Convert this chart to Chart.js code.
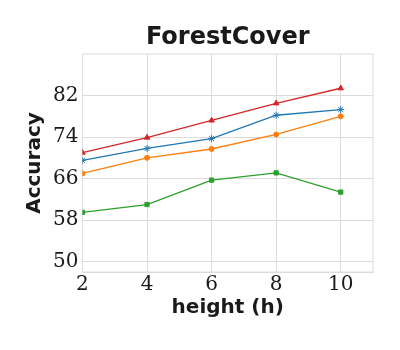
<!DOCTYPE html>
<html>
<head>
<meta charset="utf-8">
<script src="https://cdn.jsdelivr.net/npm/chart.js@4"></script>
<style>
  html, body { margin: 0; padding: 0; background: #fff; }
  #wrap { width: 400px; height: 350px; }
</style>
</head>
<body>
<div id="wrap"><canvas id="chart" width="400" height="350"></canvas></div>
<script>
'use strict';

// --- data ---
const heights = [2, 4, 6, 8, 10];
const redSeries = [71.0, 73.9, 77.2, 80.5, 83.4];
const blueSeries = [69.5, 71.8, 73.7, 78.2, 79.3];
const orangeSeries = [67.0, 70.0, 71.7, 74.5, 78.0];
const greenSeries = [59.5, 61.0, 65.7, 67.1, 63.4];
const yTicks = [50, 58, 66, 74, 82];
const xTicks = [2, 4, 6, 8, 10];
const chartTitle = 'ForestCover';

const gridColor = '#dcdcdc';
const textColor = '#1a1a1a';
const serif = "'DejaVu Serif', 'Liberation Serif', serif";
const sans = "'DejaVu Sans', sans-serif";

function series(values, color, style, radius) {
    return {
        data: heights.map((h, i) => ({ x: h, y: values[i] })),
        borderColor: color,
        backgroundColor: color,
        borderWidth: 1.3,
        pointStyle: style,
        pointRadius: radius,
        pointBorderWidth: 1,
        tension: 0
    };
}

// box around the plot area + title centred over it
const frame = {
    id: 'frame',
    beforeDatasetsDraw(chart) {
        const { ctx, chartArea: a } = chart;
        ctx.save();
        ctx.strokeStyle = gridColor;
        ctx.lineWidth = 1;
        ctx.strokeRect(a.left, a.top, a.right - a.left, a.bottom - a.top);
        ctx.restore();
    },
    afterDraw(chart) {
        const { ctx, chartArea: a } = chart;
        ctx.save();
        ctx.fillStyle = textColor;
        ctx.font = 'bold 24px ' + sans;
        ctx.textAlign = 'center';
        ctx.textBaseline = 'middle';
        ctx.fillText(chartTitle, (a.left + a.right) / 2, 38);
        ctx.restore();
    }
};

new Chart(document.getElementById('chart'), {
    type: 'line',
    data: {
        datasets: [
            series(greenSeries, '#2ca02c', 'rect', 3),
            series(orangeSeries, '#ff7f0e', 'circle', 2.5),
            series(blueSeries, '#1f77b4', 'star', 3.5),
            series(redSeries, '#d62728', 'triangle', 3.2)
        ]
    },
    options: {
        responsive: false,
        animation: false,
        layout: { padding: { left: 23, right: 27, top: 54, bottom: 30 } },
        plugins: {
            legend: { display: false },
            tooltip: { enabled: false },
            title: { display: false }
        },
        scales: {
            x: {
                type: 'linear',
                min: 2, max: 11,
                afterBuildTicks: (axis) => { axis.ticks = xTicks.map(v => ({ value: v })); },
                grid: { color: gridColor, drawTicks: false },
                border: { color: gridColor },
                ticks: { color: textColor, padding: 1, font: { family: serif, size: 20 } },
                title: {
                    display: true, text: 'height (h)', color: textColor,
                    font: { family: sans, size: 20, weight: 'bold' },
                    padding: { top: -2, bottom: 0 }
                }
            },
            y: {
                min: 48, max: 90,
                afterBuildTicks: (axis) => { axis.ticks = yTicks.map(v => ({ value: v })); },
                grid: { color: gridColor, drawTicks: false },
                border: { color: gridColor },
                ticks: { color: textColor, padding: 4, font: { family: serif, size: 20 } },
                title: {
                    display: true, text: 'Accuracy', color: textColor,
                    font: { family: sans, size: 20, weight: 'bold' },
                    padding: { top: 0, bottom: 2 }
                }
            }
        }
    },
    plugins: [frame]
});
</script>
</body>
</html>
